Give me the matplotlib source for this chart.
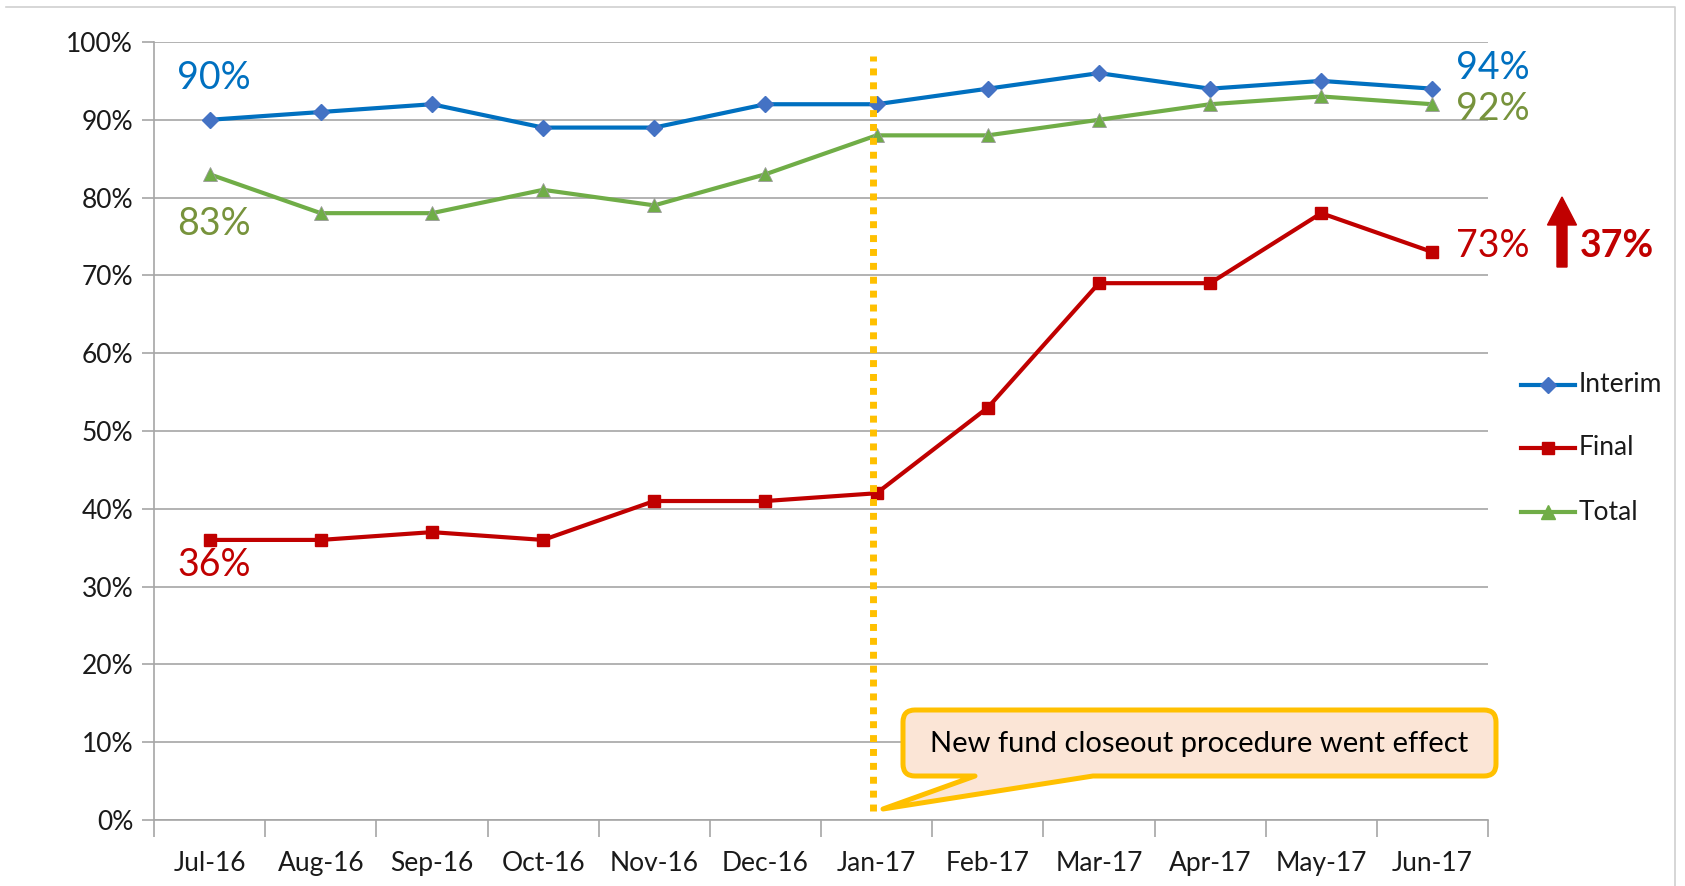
import matplotlib
matplotlib.use('Agg')
import matplotlib.pyplot as plt
from matplotlib.path import Path
from matplotlib.patches import PathPatch, FancyArrow
from matplotlib.lines import Line2D
from matplotlib.transforms import Affine2D

months = ['Jul-16', 'Aug-16', 'Sep-16', 'Oct-16', 'Nov-16', 'Dec-16',
          'Jan-17', 'Feb-17', 'Mar-17', 'Apr-17', 'May-17', 'Jun-17']
interim = [90, 91, 92, 89, 89, 92, 92, 94, 96, 94, 95, 94]
final = [36, 36, 37, 36, 41, 41, 42, 53, 69, 69, 78, 73]
total = [83, 78, 78, 81, 79, 83, 88, 88, 90, 92, 93, 92]
y_ticks = list(range(0, 101, 10))
change_label = '37%'
callout_text = 'New fund closeout procedure went effect'
event_month = 'Jan-17'

W, H = 1685, 886
narrow = ['Lato', 'DejaVu Sans']
calib = ['Lato', 'DejaVu Sans']

c_blue, c_blue_m = '#0070C0', '#4472C4'
c_red = '#C00000'
c_green, c_green_t = '#70AD47', '#77933C'
c_grid = '#A6A6A6'
c_gold = '#FFC000'

fig = plt.figure(figsize=(W / 100, H / 100), dpi=100)
ax = fig.add_axes([154 / W, 1 - 820 / H, (1488 - 154) / W, (820 - 42) / H])

# pixel coordinates of the figure (y down)
px = Affine2D().scale(1 / W, -1 / H).translate(0, 1) + fig.transFigure

x = list(range(len(months)))
ax.plot(x, interim, color=c_blue, lw=3, marker='D', ms=8, mfc=c_blue_m, mec=c_blue_m, zorder=4)
ax.plot(x, final, color=c_red, lw=3, marker='s', ms=9, mfc=c_red, mec=c_red, zorder=4)
ax.plot(x, total, color=c_green, lw=3, marker='^', ms=10, mfc=c_green, mec='#9A9A9A', mew=0.6, zorder=4)

ax.set_xlim(-0.5, len(months) - 0.5)
ax.set_ylim(0, 100)
ax.set_yticks(y_ticks)
ax.set_yticklabels([f'{v}%' for v in y_ticks], fontsize=19, family=narrow, color='#1a1a1a')
ax.set_xticks(x)
ax.set_xticklabels(months, fontsize=19, family=narrow, color='#1a1a1a')
ax.set_xticks([i - 0.5 for i in range(len(months) + 1)], minor=True)
ax.tick_params(axis='x', which='major', length=0, pad=22)
ax.tick_params(axis='x', which='minor', length=12, color=c_grid, width=1.2)
ax.tick_params(axis='y', length=9, color=c_grid, width=1.2, pad=6)
ax.grid(axis='y', color=c_grid, lw=1.2)
ax.set_axisbelow(True)
for s in ['top', 'right']:
    ax.spines[s].set_visible(False)
for s in ['left', 'bottom']:
    ax.spines[s].set_color(c_grid)
    ax.spines[s].set_linewidth(1.2)

# event line
xe = months.index(event_month)
ax.plot([xe - 0.03, xe - 0.03], [1.2, 98.2], color=c_gold, lw=5, ls=(0, (1, 1)), zorder=5)

# data labels at both ends
lab = dict(fontsize=27, family=calib, ha='center', va='center', transform=px)
fig.text(214, 78, f'{interim[0]}%', color=c_blue, **lab)
fig.text(214, 224, f'{total[0]}%', color=c_green_t, **lab)
fig.text(214, 565, f'{final[0]}%', color=c_red, **lab)
fig.text(1493, 68, f'{interim[-1]}%', color=c_blue, **lab)
fig.text(1493, 109, f'{total[-1]}%', color=c_green_t, **lab)
fig.text(1493, 246, f'{final[-1]}%', color=c_red, **lab)
fig.text(1617, 246, change_label, color=c_red, fontweight='bold', **lab)
fig.patches.append(FancyArrow(1562, 267, 0, -70, width=10, head_width=29, head_length=28,
                              length_includes_head=True, color=c_red, transform=px))

# callout box with pointer
x0, x1, y0, y1, r = 903, 1496, 710, 776, 12
xa, xb, tip = 975, 1093, (883, 809)
verts = [(x0 + r, y0), (x1 - r, y0), (x1, y0), (x1, y0 + r), (x1, y1 - r), (x1, y1), (x1 - r, y1),
         (xb, y1), tip, (xa, y1), (x0 + r, y1), (x0, y1), (x0, y1 - r), (x0, y0 + r), (x0, y0),
         (x0 + r, y0), (x0 + r, y0)]
codes = [Path.MOVETO, Path.LINETO, Path.CURVE3, Path.CURVE3, Path.LINETO, Path.CURVE3, Path.CURVE3,
         Path.LINETO, Path.LINETO, Path.LINETO, Path.LINETO, Path.CURVE3, Path.CURVE3, Path.LINETO,
         Path.CURVE3, Path.CURVE3, Path.CLOSEPOLY]
fig.patches.append(PathPatch(Path(verts, codes), facecolor='#FBE5D6', edgecolor=c_gold, lw=3.6,
                             joinstyle='round', transform=px, zorder=6))
fig.text((x0 + x1) / 2, 744, callout_text, fontsize=21, family=calib, ha='center', va='center',
         color='black', transform=px, zorder=7)

# legend
leg = [('Interim', c_blue, c_blue_m, 'D', 8, 385), ('Final', c_red, c_red, 's', 9, 448),
       ('Total', c_green, c_green, '^', 10, 512)]
for name, lc, mc, mk, ms, yy in leg:
    fig.add_artist(Line2D([1521, 1575], [yy, yy], color=lc, lw=3, transform=px))
    fig.add_artist(Line2D([1548], [yy], marker=mk, ms=ms, mfc=mc, mec=mc, transform=px))
    fig.text(1579, yy, name, fontsize=19, family=narrow, ha='left', va='center', color='#1a1a1a', transform=px)

# chart frame
fig.add_artist(Line2D([6, 1675, 1675], [7, 7, 886], color='#D0D0D0', lw=1.2, transform=px))

fig.savefig('out.png', dpi=100)
